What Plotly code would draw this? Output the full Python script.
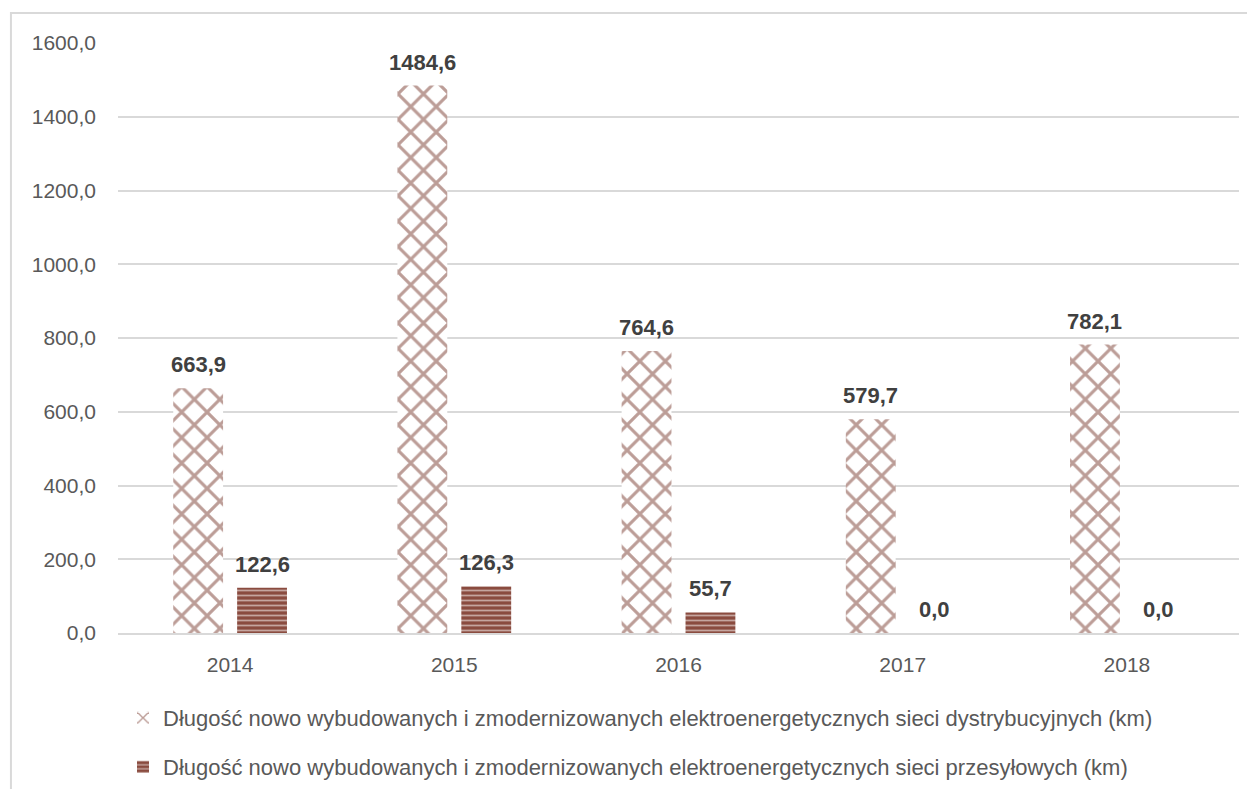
import plotly.graph_objects as go

# data
years = ["2014", "2015", "2016", "2017", "2018"]
dystrybucyjne = [663.9, 1484.6, 764.6, 579.7, 782.1]
przesylowe = [122.6, 126.3, 55.7, 0.0, 0.0]

name_dyst = "Długość nowo wybudowanych i zmodernizowanych elektroenergetycznych sieci dystrybucyjnych (km)"
name_przes = "Długość nowo wybudowanych i zmodernizowanych elektroenergetycznych sieci przesyłowych (km)"

BROWN = "#8A4B3F"
FONT = "Liberation Sans"
label_font = dict(family=FONT, size=22, color="#404040", weight="bold")
legend_font = dict(family=FONT, size=22, color="#595959")


def fmt(v):
    return f"{v:.1f}".replace(".", ",")


fig = go.Figure()

fig.add_trace(go.Bar(
    x=years, y=dystrybucyjne, name=name_dyst,
    marker=dict(
        color="white",
        line=dict(width=0),
        pattern=dict(shape="x", fgcolor="#7A3B2F", bgcolor="white", size=18, solidity=0.32),
    ),
    legend="legend",
))

fig.add_trace(go.Bar(
    x=years, y=przesylowe, name=name_przes,
    marker=dict(
        color=BROWN,
        line=dict(width=0),
        pattern=dict(shape="-", fgcolor="white", bgcolor=BROWN, size=5, solidity=0.35),
    ),
    legend="legend2",
))

# value labels sit a bit higher above the bars than plotly's "outside" text;
# on a category axis annotations are placed by category index
annotations = []
for series, shift in ((dystrybucyjne, -32), (przesylowe, 32)):
    for i, v in enumerate(series):
        annotations.append(dict(
            x=i, y=v, text=fmt(v), showarrow=False,
            xanchor="center", yanchor="bottom", xshift=shift, yshift=9,
            font=label_font,
        ))

fig.update_layout(
    width=1247, height=781,
    margin=dict(l=110, r=16, t=35, b=156, autoexpand=False),
    paper_bgcolor="white", plot_bgcolor="white",
    font=dict(family=FONT, size=21, color="#595959"),
    separators=", ",
    barmode="group", bargap=0.43, bargroupgap=0.22,
    showlegend=True,
    legend=dict(orientation="h", xref="container", yref="container",
                x=115 / 1247, xanchor="left", y=1 - 710 / 781, yanchor="middle",
                font=legend_font, itemwidth=30),
    legend2=dict(orientation="h", xref="container", yref="container",
                 x=115 / 1247, xanchor="left", y=1 - 759 / 781, yanchor="middle",
                 font=legend_font, itemwidth=30),
    annotations=annotations,
    shapes=[dict(type="rect", xref="paper", yref="paper",
                 x0=-0.0955, x1=1.2, y0=-0.5, y1=1.0508,
                 line=dict(color="#d9d9d9", width=2), layer="below")],
)

fig.update_yaxes(
    range=[0, 1600], dtick=200, tickformat=".1f",
    showgrid=True, gridcolor="#d9d9d9", gridwidth=1.5,
    zeroline=False, showline=False, ticks="", ticklabelstandoff=21,
    tickfont=dict(family=FONT, size=21, color="#595959"),
)
fig.update_xaxes(
    type="category", range=[-0.5, len(years) - 0.5],
    showline=True, linecolor="#d9d9d9", linewidth=1.5, ticks="",
    ticklabelstandoff=12,
    tickfont=dict(family=FONT, size=21, color="#595959"),
)

fig.write_html("out.html")
